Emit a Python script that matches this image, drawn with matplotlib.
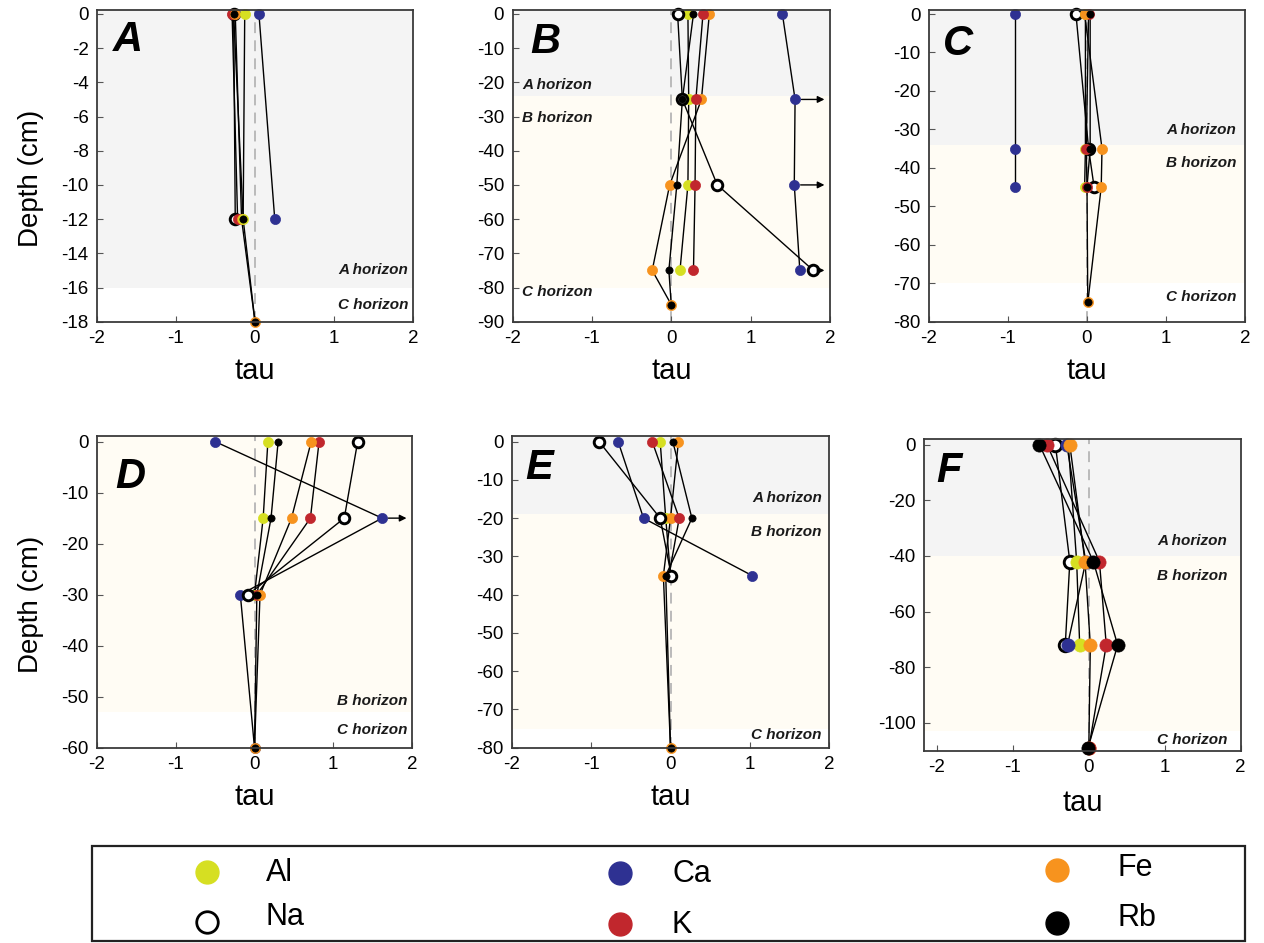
import numpy as np
import matplotlib
matplotlib.use("Agg")
import matplotlib.pyplot as plt
from matplotlib.patches import Rectangle

plt.rcParams['font.family'] = ['Liberation Sans', 'DejaVu Sans']

nan = np.nan

# ---------------- data (tau values per element, by depth) ----------------
A_depth = [0, -12, -18]
A_Al = [-0.13, -0.15, nan]
A_Ca = [0.05, 0.25, nan]
A_Fe = [-0.25, -0.17, 0.0]
A_K = [-0.29, -0.22, nan]
A_Na = [-0.27, -0.25, nan]
A_Rb = [-0.27, -0.15, 0.0]

B_depth = [0, -25, -50, -75, -85]
B_Al = [0.21, 0.22, 0.21, 0.11, nan]
B_Ca = [1.40, 1.56, 1.55, 1.62, nan]
B_Fe = [0.48, 0.38, -0.02, -0.24, 0.0]
B_K = [0.40, 0.31, 0.30, 0.28, nan]
B_Na = [0.08, 0.14, 0.58, 1.79, nan]
B_Rb = [0.28, 0.14, 0.07, -0.03, 0.0]

C_depth = [0, -35, -45, -75]
C_Al = [-0.02, -0.02, -0.03, nan]
C_Ca = [-0.91, -0.91, -0.91, nan]
C_Fe = [-0.03, 0.19, 0.18, 0.01]
C_K = [0.02, -0.01, 0.0, nan]
C_Na = [-0.14, 0.02, 0.09, nan]
C_Rb = [0.04, 0.04, 0.0, 0.01]

D_depth = [0, -15, -30, -60]
D_Al = [0.17, 0.11, 0.0, nan]
D_Ca = [-0.50, 1.62, -0.18, 0.0]
D_Fe = [0.72, 0.47, 0.07, 0.0]
D_K = [0.82, 0.71, 0.03, nan]
D_Na = [1.31, 1.14, -0.08, nan]
D_Rb = [0.30, 0.21, 0.03, 0.0]

E_depth = [0, -20, -35, -80]
E_Al = [-0.13, -0.06, 0.0, nan]
E_Ca = [-0.66, -0.34, 1.03, nan]
E_Fe = [0.10, 0.0, -0.09, 0.0]
E_K = [-0.23, 0.11, -0.02, nan]
E_Na = [-0.90, -0.13, 0.01, nan]
E_Rb = [0.03, 0.27, -0.06, 0.0]

F_depth = [0, -42, -72, -109]
F_Al = [-0.27, -0.16, -0.12, nan]
F_Ca = [-0.29, -0.04, -0.28, nan]
F_Fe = [-0.25, -0.05, 0.02, 0.0]
F_K = [-0.55, 0.14, 0.23, 0.0]
F_Na = [-0.44, -0.25, -0.31, nan]
F_Rb = [-0.65, 0.06, 0.38, -0.01]

# horizons: (name, top, bottom)
A_hz = [('A', 0, -16), ('C', -16, -18)]
B_hz = [('A', 0, -24), ('B', -24, -80), ('C', -80, -90)]
C_hz = [('A', 0, -34), ('B', -34, -70), ('C', -70, -80)]
D_hz = [('B', 0, -53), ('C', -53, -60)]
E_hz = [('A', 0, -19), ('B', -19, -75), ('C', -75, -80)]
F_hz = [('A', 0, -40), ('B', -40, -103), ('C', -103, -110)]

# horizon label positions (x in tau, y in depth)
A_hzlab = [('A horizon', 1.94, -15.0, 'right'), ('C horizon', 1.94, -17.0, 'right')]
B_hzlab = [('A horizon', -1.88, -20.8, 'left'), ('B horizon', -1.88, -30.4, 'left'),
           ('C horizon', -1.88, -81.3, 'left')]
C_hzlab = [('A horizon', 1.89, -30.1, 'right'), ('B horizon', 1.89, -38.7, 'right'),
           ('C horizon', 1.89, -73.5, 'right')]
D_hzlab = [('B horizon', 1.94, -50.8, 'right'), ('C horizon', 1.94, -56.5, 'right')]
E_hzlab = [('A horizon', 1.91, -14.7, 'right'), ('B horizon', 1.91, -23.6, 'right'),
           ('C horizon', 1.91, -76.6, 'right')]
F_hzlab = [('A horizon', 1.82, -34.5, 'right'), ('B horizon', 1.82, -47.3, 'right'),
           ('C horizon', 1.82, -106.0, 'right')]

# off-scale arrows: (element, depth index)
B_arrows = [('Ca', 1), ('Ca', 2), ('Na', 3)]
D_arrows = [('Ca', 1)]

A_yticks = list(range(0, -19, -2))
B_yticks = list(range(0, -91, -10))
C_yticks = list(range(0, -81, -10))
D_yticks = list(range(0, -61, -10))
E_yticks = list(range(0, -81, -10))
F_yticks = list(range(0, -101, -20))
x_ticks = [-2, -1, 0, 1, 2]

legend_labels = ['Al', 'Na', 'Ca', 'K', 'Fe', 'Rb']

# ---------------- style ----------------
COL = {'Al': '#d6df22', 'Ca': '#2e3192', 'Fe': '#f7931e', 'K': '#c1272d',
       'Na': 'white', 'Rb': 'black'}
HZC = {'A': '#f4f4f4', 'B': '#fffcf4', 'C': 'white'}

W, H = 1264, 943


def rect(l, t, r, b):
    return [l / W, 1 - b / H, (r - l) / W, (b - t) / H]


ns = globals()
panels = [
    dict(key='A', box=(97, 9.5, 413, 321.7), xlim=(-2, 2), ylim=(-18, 0.26),
         yticks=A_yticks, hz=A_hz, hzlab=A_hzlab, arrows=[], letter=(0.05, 0.966),
         order=['Na', 'K', 'Ca', 'Fe', 'Al', 'Rb'], big=False, ylabel=True),
    dict(key='B', box=(512.5, 9.5, 830, 321.7), xlim=(-2, 2), ylim=(-90, 1.3),
         yticks=B_yticks, hz=B_hz, hzlab=B_hzlab, arrows=B_arrows, letter=(0.057, 0.961),
         order=['Al', 'Ca', 'Fe', 'K', 'Na', 'Rb'], big=False, ylabel=False),
    dict(key='C', box=(929, 10, 1245, 321.7), xlim=(-2, 2), ylim=(-80, 1.04),
         yticks=C_yticks, hz=C_hz, hzlab=C_hzlab, arrows=[], letter=(0.044, 0.955),
         order=['Na', 'Al', 'K', 'Ca', 'Fe', 'Rb'], big=False, ylabel=False),
    dict(key='D', box=(97, 436, 412, 747.7), xlim=(-2, 2), ylim=(-60, 1.1),
         yticks=D_yticks, hz=D_hz, hzlab=D_hzlab, arrows=D_arrows, letter=(0.057, 0.934),
         order=['Al', 'Ca', 'K', 'Fe', 'Na', 'Rb'], big=False, ylabel=True),
    dict(key='E', box=(512, 436, 829, 747.7), xlim=(-2, 2), ylim=(-80, 1.5),
         yticks=E_yticks, hz=E_hz, hzlab=E_hzlab, arrows=[], letter=(0.041, 0.96),
         order=['Al', 'Ca', 'Fe', 'K', 'Na', 'Rb'], big=False, ylabel=False),
    dict(key='F', box=(924, 439, 1240.7, 750.7), xlim=(-2.17, 1.90), ylim=(-110, 2.05),
         yticks=F_yticks, hz=F_hz, hzlab=F_hzlab, arrows=[], letter=(0.04, 0.96),
         order=['Na', 'Al', 'Ca', 'Fe', 'K', 'Rb'], big=True, ylabel=False),
]

fig = plt.figure(figsize=(W / 100, H / 100), dpi=100)

for p in panels:
    k = p['key']
    depth = ns[k + '_depth']
    vals = {el: ns[k + '_' + el] for el in ['Al', 'Ca', 'Fe', 'K', 'Na', 'Rb']}
    ax = fig.add_axes(rect(*p['box']))
    ax.set_xlim(*p['xlim'])
    ax.set_ylim(*p['ylim'])
    ytop = p['ylim'][1]
    for name, top, bot in p['hz']:
        t = ytop if top >= 0 else top
        ax.axhspan(bot, t, color=HZC[name], lw=0, zorder=0)
    ax.axvline(0, color='#b5b5b5', ls=(0, (6, 4)), lw=1.3, zorder=1)

    for el in p['order']:
        ax.plot(vals[el], depth, color='black', lw=1.0, zorder=2)

    ms_col = 9.5 if p['big'] else 7.3
    ms_rb = 9.5 if p['big'] else 5.2
    ms_na = 9.0 if p['big'] else 7.6
    for i, el in enumerate(p['order']):
        if el == 'Na':
            ax.plot(vals[el], depth, ls='none', marker='o', ms=ms_na, mfc='white',
                    mec='black', mew=2.1, zorder=3 + i, clip_on=False)
        elif el == 'Rb':
            ax.plot(vals[el], depth, ls='none', marker='o', ms=ms_rb, mfc='black',
                    mec='black', mew=0.5, zorder=3 + i, clip_on=False)
        else:
            ax.plot(vals[el], depth, ls='none', marker='o', ms=ms_col, mfc=COL[el],
                    mec=COL[el], mew=0.5, zorder=3 + i, clip_on=False)

    for el, idx in p['arrows']:
        x0 = vals[el][idx] + 0.08
        ax.annotate('', xy=(1.93, depth[idx]), xytext=(x0, depth[idx]),
                    arrowprops=dict(arrowstyle='-|>', color='black', lw=1.0,
                                    mutation_scale=10, shrinkA=0, shrinkB=0),
                    zorder=12)

    for txt, x, y, ha in p['hzlab']:
        ax.text(x, y, txt, ha=ha, va='center', fontsize=11, fontweight='bold',
                fontstyle='italic', color='#1a1a1a', zorder=15)

    ax.text(p['letter'][0], p['letter'][1], k, transform=ax.transAxes, ha='left',
            va='top', fontsize=30, fontweight='bold', fontstyle='italic', zorder=15)

    ax.set_xticks(x_ticks)
    ax.set_xticklabels([str(v) for v in x_ticks])
    ax.set_yticks(p['yticks'])
    ax.set_yticklabels([str(v) for v in p['yticks']])
    ax.tick_params(direction='in', length=4, width=0.8, color='#555555',
                   labelsize=13.5, top=False, right=False)
    ax.tick_params(axis='x', pad=6)
    ax.tick_params(axis='y', pad=6)
    for s in ax.spines.values():
        s.set_linewidth(1.3)
        s.set_color('#3a3a3a')
        s.set_zorder(20)

    tau_y = -0.168 if p['big'] else -0.158
    ax.text(0.5, tau_y, 'tau', transform=ax.transAxes, ha='center', va='center',
            fontsize=21)
    if p['ylabel']:
        ax.text(-0.21, 0.46, 'Depth (cm)', transform=ax.transAxes, ha='center',
                va='center', rotation=90, fontsize=20)

# ---------------- legend ----------------
lax = fig.add_axes([0, 0, 1, 1], zorder=-1)
lax.set_xlim(0, W)
lax.set_ylim(H, 0)
lax.axis('off')
lax.add_patch(Rectangle((92, 846), 1153, 95, fill=False, ec='#222222', lw=1.6))
leg_pos = {'Al': (207, 872), 'Na': (207, 922), 'Ca': (620, 873), 'K': (620, 924),
           'Fe': (1057, 870), 'Rb': (1057, 923)}
leg_txt = {'Al': (266, 873), 'Na': (266, 917), 'Ca': (672, 874), 'K': (672, 925),
           'Fe': (1118, 868), 'Rb': (1118, 918)}
for el in legend_labels:
    mx, my = leg_pos[el]
    if el == 'Na':
        lax.plot([mx], [my], marker='o', ms=15.5, mfc='white', mec='black', mew=2.0)
    else:
        lax.plot([mx], [my], marker='o', ms=16.5, mfc=COL[el], mec=COL[el])
    tx, ty = leg_txt[el]
    lax.text(tx, ty, el, ha='left', va='center', fontsize=22)

fig.savefig('out.png', dpi=100)
